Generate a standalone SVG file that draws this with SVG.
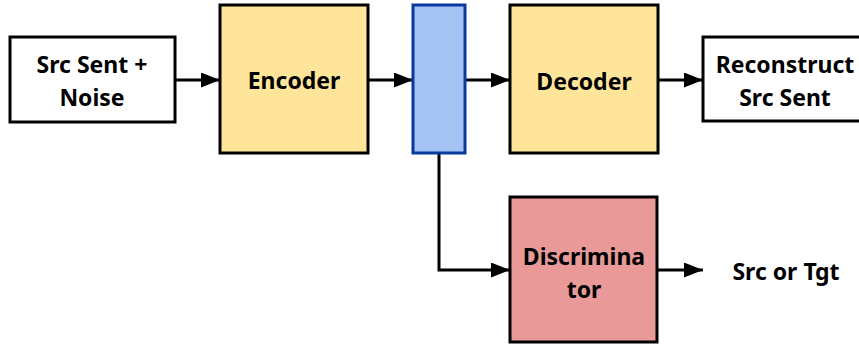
<svg xmlns="http://www.w3.org/2000/svg" width="859" height="345" viewBox="0 0 859 345">
  <style>
    .box { stroke: #000; stroke-width: 3; }
    .plain { fill: #fff; }
    .yellow { fill: #ffe599; }
    .red { fill: #ea9999; }
    .latent { fill: #a4c2f4; stroke: #0b3a9e; stroke-width: 3; }
    .lbl { font-family: "Noto Sans", "Open Sans", sans-serif; font-weight: bold; font-size: 23px; fill: #000; text-anchor: middle; }
    .wire { fill: none; stroke: #000; stroke-width: 3; }
  </style>
  <defs>
    <marker id="arrow" markerWidth="19" markerHeight="15" refX="19" refY="7.5" orient="auto" markerUnits="userSpaceOnUse">
      <path d="M0,0 L19,7.5 L0,15 Z" fill="#000"/>
    </marker>
  </defs>
  <rect width="859" height="345" fill="#fff"/>

  <g id="connectors">
    <line class="wire" x1="175" y1="80" x2="220" y2="80" marker-end="url(#arrow)"/>
    <line class="wire" x1="368" y1="80" x2="413" y2="80" marker-end="url(#arrow)"/>
    <line class="wire" x1="465" y1="80" x2="510" y2="80" marker-end="url(#arrow)"/>
    <line class="wire" x1="658" y1="80" x2="703" y2="80" marker-end="url(#arrow)"/>
    <polyline class="wire" points="439,153 439,270 510,270" marker-end="url(#arrow)"/>
    <line class="wire" x1="657" y1="270" x2="703" y2="270" marker-end="url(#arrow)"/>
  </g>

  <g id="input">
    <rect class="box plain" x="10" y="37" width="165" height="85"/>
    <text class="lbl" x="92" y="73">Src Sent +</text>
    <text class="lbl" x="92" y="106">Noise</text>
  </g>

  <g id="encoder">
    <rect class="box yellow" x="220" y="5" width="148" height="148"/>
    <text class="lbl" x="294" y="89">Encoder</text>
  </g>

  <g id="latent">
    <rect class="latent" x="413" y="5" width="52" height="148"/>
  </g>

  <g id="decoder">
    <rect class="box yellow" x="510" y="5" width="148" height="148"/>
    <text class="lbl" x="584" y="90">Decoder</text>
  </g>

  <g id="reconstruct">
    <rect class="box plain" x="703" y="37" width="170" height="84"/>
    <text class="lbl" x="785" y="73">Reconstruct</text>
    <text class="lbl" x="785" y="106">Src Sent</text>
  </g>

  <g id="discriminator">
    <rect class="box red" x="510" y="197" width="147" height="145"/>
    <text class="lbl" x="584" y="265">Discrimina</text>
    <text class="lbl" x="584" y="298">tor</text>
  </g>

  <g id="output">
    <text class="lbl" x="786" y="280">Src or Tgt</text>
  </g>
</svg>
